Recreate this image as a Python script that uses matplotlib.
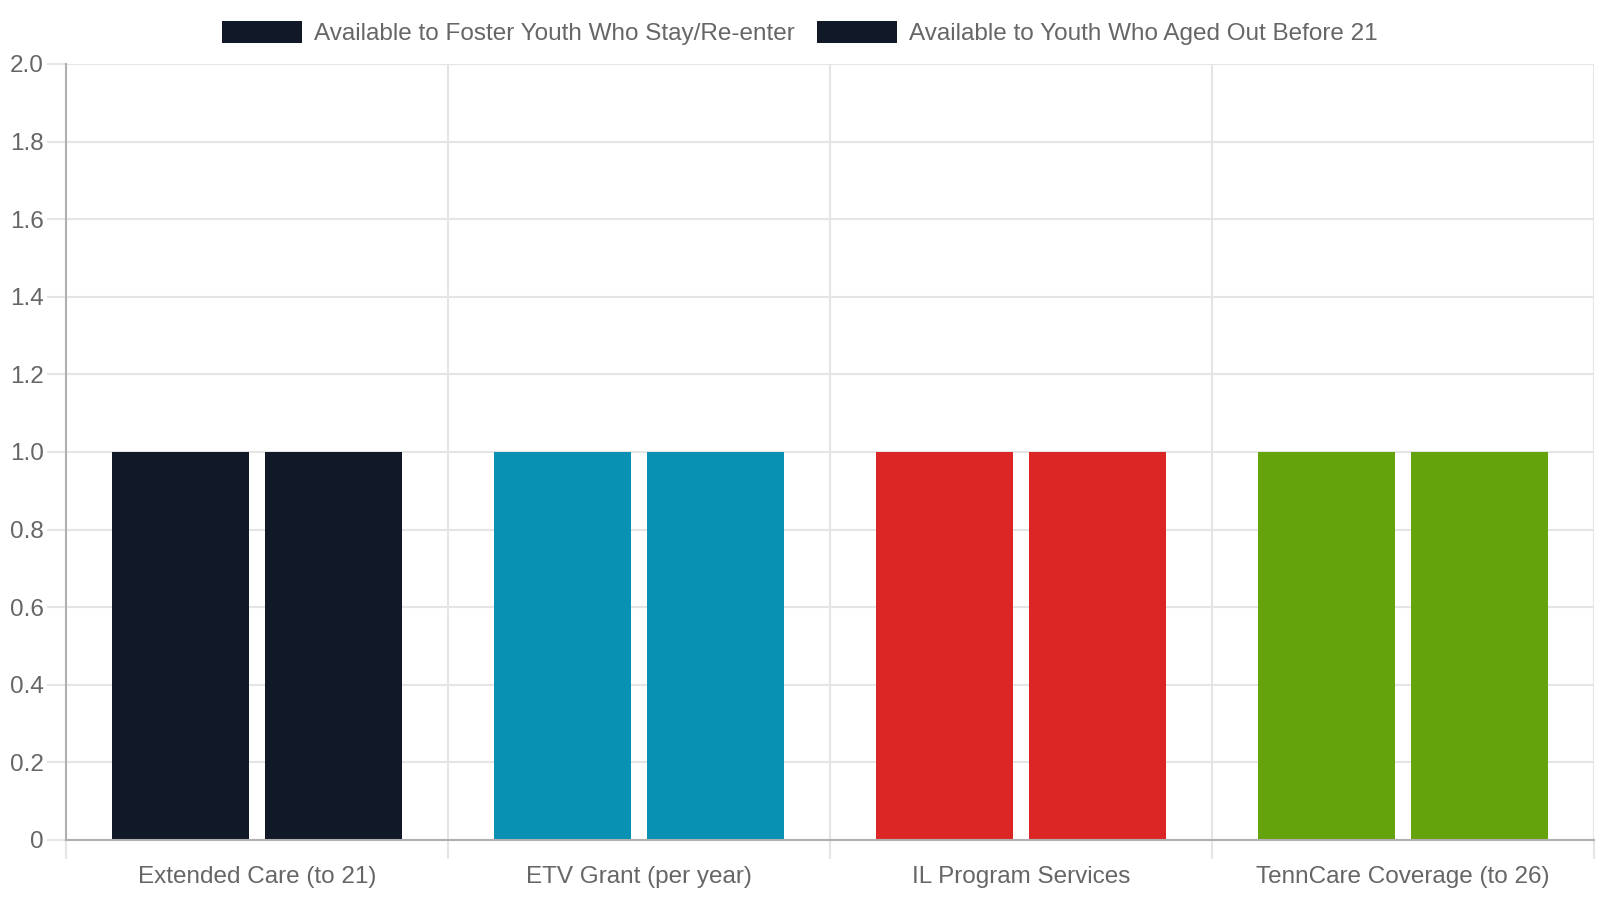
import matplotlib.pyplot as plt
import numpy as np

categories = ["Extended Care (to 21)", "ETV Grant (per year)",
              "IL Program Services", "TennCare Coverage (to 26)"]
stay_values = [1, 1, 1, 1]
aged_out_values = [1, 1, 1, 1]
series_labels = ["Available to Foster Youth Who Stay/Re-enter",
                 "Available to Youth Who Aged Out Before 21"]
bar_colors = ["#111827", "#0891b2", "#dc2626", "#65a30d"]
y_ticks = [0, 0.2, 0.4, 0.6, 0.8, 1.0, 1.2, 1.4, 1.6, 1.8, 2.0]
y_tick_labels = ["0", "0.2", "0.4", "0.6", "0.8", "1.0", "1.2", "1.4", "1.6", "1.8", "2.0"]

plt.rcParams["font.family"] = ["Liberation Sans", "DejaVu Sans"]

text_color = "#666666"
grid_color = "#e5e5e5"
axis_color = "#b0b0b0"

fig = plt.figure(figsize=(16, 9), dpi=100)
ax = fig.add_axes([66 / 1600, 1 - 840 / 900, 1528 / 1600, 776 / 900])

x = np.arange(len(categories))
width = 0.36
ax.bar(x - 0.2, stay_values, width, color=bar_colors, label=series_labels[0], zorder=3)
ax.bar(x + 0.2, aged_out_values, width, color=bar_colors, label=series_labels[1], zorder=3)

ax.set_xlim(-0.5, len(categories) - 0.5)
ax.set_ylim(0, 2.0)

ax.set_yticks(y_ticks)
ax.set_yticklabels(y_tick_labels)
ax.set_xticks(x)
ax.set_xticklabels(categories)
ax.set_xticks(np.arange(len(categories) + 1) - 0.5, minor=True)

ax.tick_params(axis="y", length=14, width=1.5, color=grid_color, labelsize=17.5,
               labelcolor=text_color, pad=2)
ax.tick_params(axis="x", which="major", length=0, labelsize=17.5,
               labelcolor=text_color, pad=19)
ax.tick_params(axis="x", which="minor", length=14, width=1.5, color=grid_color)

ax.grid(axis="y", color=grid_color, linewidth=1.5, zorder=0)
ax.grid(axis="x", which="minor", color=grid_color, linewidth=1.5, zorder=0)
ax.set_axisbelow(True)

for side in ["top", "right"]:
    ax.spines[side].set_visible(False)
for side in ["left", "bottom"]:
    ax.spines[side].set_color(axis_color)
    ax.spines[side].set_linewidth(1.5)
    ax.spines[side].set_zorder(4)

handles, labels = ax.get_legend_handles_labels()
leg = fig.legend(handles, labels, loc="center", bbox_to_anchor=(0.5, 1 - 33 / 900),
                 ncol=2, frameon=False, fontsize=17.5, handlelength=3.3,
                 handleheight=1.0, handletextpad=0.5, columnspacing=0.9)
for t in leg.get_texts():
    t.set_color(text_color)
for h in leg.legend_handles:
    h.set_facecolor(bar_colors[0])

fig.savefig("out.png", dpi=100)
